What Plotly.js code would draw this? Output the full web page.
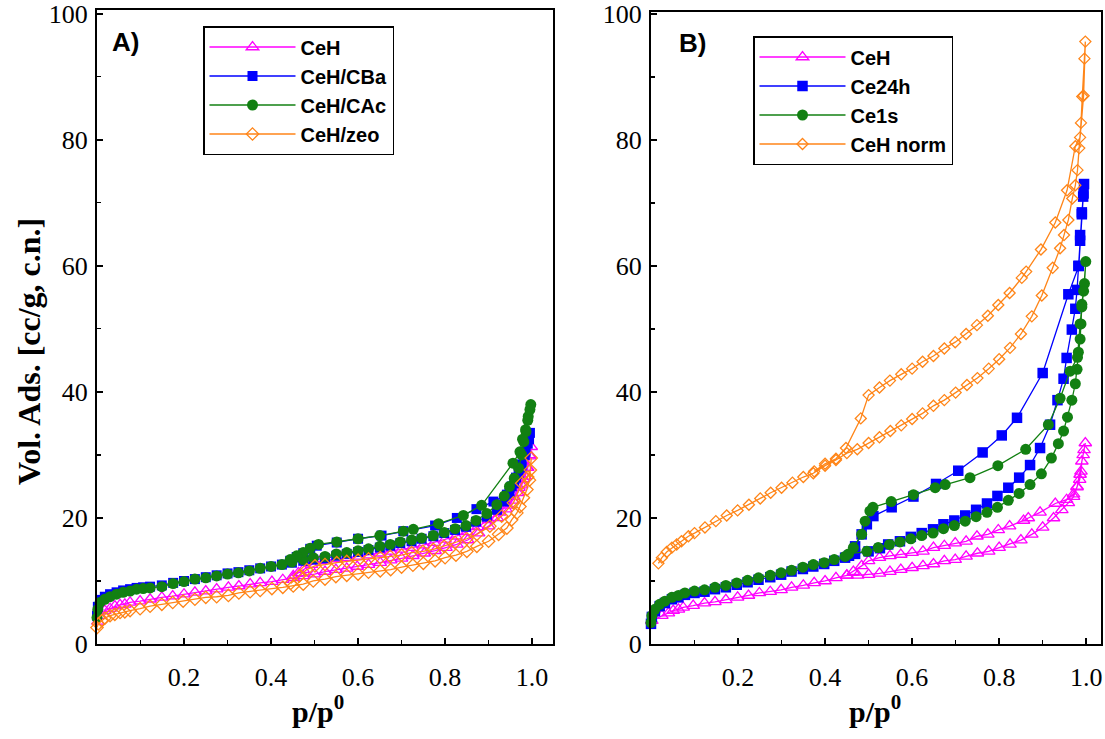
<!DOCTYPE html>
<html>
<head>
<meta charset="utf-8">
<script src="https://cdn.plot.ly/plotly-3.0.1.min.js"></script>
<style>html,body{margin:0;padding:0;background:#fff;}#chart{width:1105px;height:739px;}</style>
</head>
<body>
<div id="chart"></div>
<script>
// ---------- Panel A data (p/p0, Vol. Ads.) ----------
const aCeH_ads_p = [0.002,0.007,0.018,0.030,0.041,0.053,0.064,0.076,0.099,0.122,0.149,0.174,0.200,0.225,0.250,0.275,0.302,0.326,0.352,0.375,0.402,0.427,0.451,0.474,0.500,0.524,0.549,0.574,0.598,0.624,0.651,0.675,0.700,0.726,0.752,0.777,0.802,0.827,0.852,0.877,0.900,0.920,0.940,0.955,0.967,0.976,0.984,0.990,0.995,0.998];
const aCeH_ads_v = [3.6,4.5,5.3,5.6,6.0,6.2,6.3,6.6,6.8,7.1,7.4,7.6,7.9,8.2,8.4,8.7,9.0,9.2,9.5,9.7,9.9,10.2,10.5,10.8,11.1,11.5,11.8,12.0,12.3,12.6,12.9,13.3,13.6,14.0,14.4,14.8,15.3,15.8,16.5,17.6,18.7,20.0,21.4,22.8,24.0,25.2,26.6,28.0,29.8,31.3];
const aCeH_des_p = [0.995,0.988,0.980,0.970,0.958,0.943,0.925,0.900,0.875,0.850,0.825,0.800,0.775,0.750,0.725,0.700,0.675,0.650,0.625,0.600,0.575,0.550,0.525,0.513,0.493,0.474,0.463,0.451];
const aCeH_des_v = [30.0,28.0,26.2,24.8,23.4,22.0,20.9,19.7,18.6,17.8,17.1,16.6,16.1,15.7,15.3,15.0,14.7,14.4,14.1,13.9,13.7,13.5,13.3,13.2,12.6,11.8,11.3,10.8];

const aCBa_ads_p = [0.000,0.002,0.007,0.018,0.030,0.045,0.060,0.076,0.091,0.106,0.122,0.149,0.175,0.200,0.225,0.250,0.275,0.300,0.325,0.350,0.375,0.400,0.425,0.448,0.474,0.497,0.524,0.550,0.574,0.600,0.624,0.650,0.674,0.697,0.723,0.746,0.773,0.798,0.823,0.848,0.871,0.896,0.919,0.936,0.948,0.959,0.969,0.976,0.983,0.990,0.995];
const aCBa_ads_v = [4.5,5.9,7.0,7.5,7.9,8.2,8.5,8.7,8.9,9.0,9.1,9.3,9.7,10.0,10.3,10.6,10.9,11.2,11.4,11.7,12.0,12.3,12.6,12.9,13.2,13.4,13.6,14.0,14.3,14.6,14.9,15.3,15.6,16.0,16.3,16.7,17.1,17.6,18.1,18.6,19.4,20.2,21.3,22.6,24.0,25.5,27.0,28.5,30.0,31.8,33.5];
const aCBa_des_p = [0.993,0.985,0.975,0.963,0.953,0.942,0.911,0.872,0.827,0.777,0.704,0.654,0.600,0.551,0.505,0.490,0.474,0.459,0.444];
const aCBa_des_v = [32.5,30.5,28.0,26.4,25.0,23.7,22.6,21.4,20.0,18.8,17.9,17.2,16.7,16.1,15.6,15.1,14.4,13.8,13.2];

const aCAc_ads_p = [0.000,0.002,0.007,0.018,0.030,0.045,0.060,0.076,0.091,0.106,0.122,0.149,0.175,0.200,0.225,0.250,0.275,0.300,0.325,0.350,0.375,0.400,0.425,0.448,0.474,0.497,0.524,0.550,0.574,0.600,0.624,0.650,0.674,0.697,0.723,0.746,0.773,0.798,0.823,0.848,0.871,0.896,0.919,0.936,0.948,0.959,0.969,0.976,0.981,0.986,0.991,0.997];
const aCAc_ads_v = [4.2,5.5,6.6,7.1,7.5,7.9,8.2,8.4,8.7,8.8,8.9,9.1,9.6,9.9,10.3,10.5,10.8,11.1,11.3,11.6,12.0,12.3,12.6,13.0,13.4,13.7,13.9,14.3,14.5,14.8,15.1,15.5,15.8,16.2,16.5,16.8,17.2,17.7,18.3,18.8,19.6,20.7,22.1,23.5,25.0,26.3,27.9,30.0,32.1,33.7,36.1,38.0];
const aCAc_des_p = [0.995,0.990,0.985,0.978,0.972,0.956,0.884,0.842,0.785,0.727,0.704,0.650,0.600,0.551,0.509,0.490,0.474,0.459,0.444];
const aCAc_des_v = [37.2,35.5,34.0,32.5,30.5,28.7,22.0,20.4,19.1,18.2,17.9,17.2,16.7,16.2,15.8,15.2,14.5,14.0,13.4];

const aZeo_ads_p = [0.000,0.003,0.011,0.018,0.030,0.041,0.053,0.064,0.076,0.099,0.122,0.149,0.174,0.198,0.225,0.250,0.275,0.302,0.326,0.352,0.375,0.402,0.427,0.451,0.474,0.497,0.524,0.549,0.574,0.600,0.624,0.651,0.675,0.700,0.726,0.750,0.777,0.800,0.825,0.850,0.873,0.900,0.923,0.942,0.953,0.965,0.972,0.980,0.988,0.994,0.998];
const aZeo_ads_v = [2.6,3.2,3.7,4.1,4.5,4.7,5.0,5.1,5.3,5.6,6.0,6.3,6.6,6.8,7.1,7.4,7.5,7.7,8.1,8.3,8.5,8.8,9.0,9.2,9.5,10.0,10.3,10.7,10.9,11.1,11.4,11.6,11.8,12.2,12.5,12.8,13.2,13.7,14.1,14.7,15.5,16.3,17.4,18.4,19.7,20.8,21.8,23.2,24.5,26.0,29.5];
const aZeo_des_p = [0.996,0.990,0.976,0.957,0.930,0.903,0.873,0.850,0.823,0.798,0.773,0.749,0.723,0.700,0.674,0.651,0.624,0.600,0.574,0.551,0.524,0.501,0.482,0.465,0.445];
const aZeo_des_v = [27.6,26.5,25.5,22.4,20.3,18.7,17.4,16.7,16.1,15.5,15.0,14.7,14.5,14.1,13.9,13.7,13.5,13.3,13.1,12.9,12.6,12.4,11.8,10.8,9.6];

// ---------- Panel B data ----------
const bCeH_ads_p = [0.002,0.025,0.040,0.051,0.063,0.074,0.097,0.123,0.147,0.172,0.199,0.224,0.249,0.274,0.299,0.323,0.350,0.375,0.400,0.425,0.450,0.475,0.500,0.525,0.549,0.574,0.600,0.625,0.649,0.674,0.699,0.724,0.750,0.776,0.800,0.825,0.850,0.875,0.900,0.925,0.944,0.959,0.971,0.979,0.985,0.988,0.990,0.995,0.998];
const bCeH_ads_v = [3.7,4.5,4.9,5.3,5.5,5.8,6.1,6.5,6.7,7.0,7.4,7.7,8.1,8.3,8.6,9.0,9.3,9.7,10.0,10.5,10.9,10.9,11.0,11.2,11.5,11.8,12.1,12.4,12.7,13.2,13.4,13.9,14.4,14.7,15.3,15.8,16.5,17.4,18.5,20.0,21.3,22.4,23.4,25.0,26.1,27.4,29.0,30.8,31.9];
const bCeH_des_p = [0.993,0.986,0.979,0.971,0.955,0.929,0.894,0.867,0.856,0.824,0.798,0.774,0.749,0.724,0.699,0.674,0.649,0.625,0.600,0.574,0.549,0.525,0.500,0.484,0.465,0.450];
const bCeH_des_v = [30.0,26.9,24.9,23.8,22.9,22.3,20.9,20.0,19.6,18.7,18.1,17.4,17.1,16.3,16.0,15.6,15.3,14.7,14.5,14.2,14.0,13.7,13.2,12.4,11.5,10.9];

const b24h_ads_p = [0.000,0.002,0.009,0.020,0.032,0.048,0.063,0.078,0.100,0.123,0.147,0.172,0.197,0.222,0.247,0.274,0.299,0.323,0.349,0.373,0.398,0.421,0.446,0.469,0.500,0.526,0.545,0.572,0.597,0.622,0.648,0.672,0.697,0.722,0.747,0.772,0.796,0.821,0.846,0.871,0.894,0.917,0.934,0.948,0.955,0.967,0.975,0.979,0.982,0.986,0.990,0.993,0.995];
const b24h_ads_v = [3.2,4.3,5.2,6.0,6.5,7.1,7.4,7.8,8.1,8.3,8.7,9.0,9.4,9.8,10.2,10.6,11.0,11.5,11.9,12.3,12.7,13.2,13.7,14.3,14.7,15.2,15.8,16.3,17.0,17.6,18.2,19.0,19.6,20.4,21.3,22.3,23.5,24.8,26.4,28.4,31.1,34.8,38.7,42.1,45.4,49.9,53.2,56.2,60.0,64.9,68.2,71.0,73.0];
const b24h_des_p = [0.994,0.990,0.986,0.983,0.959,0.900,0.841,0.806,0.762,0.706,0.655,0.603,0.553,0.511,0.496,0.484,0.469,0.455];
const b24h_des_v = [71.5,68.5,64.0,60.0,55.5,43.0,35.9,33.1,30.4,27.5,25.4,23.4,21.7,20.3,19.0,17.4,15.5,14.0];

const b1s_ads_p = [0.000,0.002,0.009,0.020,0.032,0.048,0.063,0.078,0.100,0.123,0.147,0.172,0.197,0.222,0.247,0.274,0.299,0.323,0.349,0.373,0.398,0.421,0.446,0.454,0.496,0.522,0.548,0.572,0.597,0.622,0.648,0.672,0.697,0.722,0.747,0.772,0.796,0.821,0.846,0.871,0.897,0.920,0.936,0.948,0.957,0.967,0.975,0.979,0.982,0.986,0.988,0.990,0.996,0.999];
const b1s_ads_v = [3.4,4.5,5.5,6.3,6.8,7.4,7.7,8.1,8.4,8.6,9.0,9.3,9.7,10.1,10.5,10.9,11.3,11.7,12.2,12.6,12.9,13.4,13.9,14.3,14.7,15.3,15.8,16.2,16.7,17.2,17.6,18.3,18.8,19.5,20.2,20.9,21.7,22.8,23.9,25.3,27.0,29.5,31.8,33.8,36.0,38.7,41.3,43.6,46.3,48.4,50.8,53.9,57.2,60.7];
const b1s_des_p = [0.994,0.990,0.986,0.980,0.963,0.940,0.913,0.861,0.797,0.733,0.676,0.653,0.603,0.552,0.510,0.503,0.492,0.484,0.465];
const b1s_des_v = [56.0,53.5,50.8,45.5,43.3,39.0,34.8,30.9,28.3,26.4,25.3,24.8,23.7,22.6,21.7,21.1,19.5,17.4,15.3];

const bNorm_ads_p = [0.017,0.025,0.036,0.048,0.059,0.070,0.086,0.100,0.124,0.149,0.174,0.199,0.225,0.251,0.275,0.300,0.325,0.350,0.373,0.400,0.425,0.450,0.474,0.500,0.525,0.550,0.575,0.600,0.624,0.649,0.674,0.700,0.726,0.750,0.776,0.800,0.825,0.850,0.875,0.898,0.923,0.940,0.949,0.959,0.968,0.975,0.980,0.984,0.988,0.991,0.996,0.998];
const bNorm_ads_v = [12.8,13.7,14.6,15.3,15.8,16.3,17.1,17.6,18.5,19.5,20.4,21.2,22.1,23.1,24.0,24.8,25.6,26.5,27.1,28.3,29.2,30.3,30.9,31.9,32.8,33.8,34.7,35.7,36.6,37.8,38.7,39.9,41.1,42.2,43.7,45.2,47.0,49.2,52.0,55.3,59.7,62.8,64.9,67.3,70.7,72.8,75.2,78.7,82.7,86.9,92.9,95.6];
const bNorm_des_p = [0.994,0.986,0.975,0.956,0.929,0.896,0.862,0.852,0.824,0.798,0.774,0.749,0.724,0.699,0.674,0.649,0.624,0.600,0.575,0.549,0.525,0.500,0.482,0.448,0.425,0.400,0.375];
const bNorm_des_v = [87.0,80.4,79.0,72.0,66.9,62.6,59.1,58.1,55.7,53.8,52.1,50.6,49.2,47.9,46.9,45.7,44.8,43.7,42.8,41.8,40.7,39.5,35.8,31.1,29.4,28.6,27.4];

const legendA = ['CeH','CeH/CBa','CeH/CAc','CeH/zeo'];
const legendB = ['CeH','Ce24h','Ce1s','CeH norm'];
const xTickVals = [0.2,0.4,0.6,0.8,1.0];
const xTickText = ['0.2','0.4','0.6','0.8','1.0'];
const yTickVals = [0,20,40,60,80,100];
const yTickText = ['0','20','40','60','80','100'];

// ---------- styles ----------
const MAG='#ff00ff', BLU='#0000ff', GRN='#128012', ORG='#ff8518';
const W=1105, H=739;

function trace(name, pA, vA, pD, vD, ax, leg, color, symbol, size, open){
  return {
    type:'scatter', mode:'lines+markers', name:name,
    x: pA.concat(pD), y: vA.concat(vD),
    xaxis: ax[0], yaxis: ax[1], legend: leg,
    line:{color:color, width:1.3},
    marker:{symbol:symbol, size:size, color:color,
            line:{color:color, width: open?1.3:0}},
    cliponaxis:false, hoverinfo:'skip'
  };
}

const data = [
  trace(legendA[0], aCeH_ads_p, aCeH_ads_v, aCeH_des_p, aCeH_des_v, ['x','y'], 'legend', MAG, 'triangle-up-open', 11, true),
  trace(legendA[1], aCBa_ads_p, aCBa_ads_v, aCBa_des_p, aCBa_des_v, ['x','y'], 'legend', BLU, 'square', 10, false),
  trace(legendA[2], aCAc_ads_p, aCAc_ads_v, aCAc_des_p, aCAc_des_v, ['x','y'], 'legend', GRN, 'circle', 11, false),
  trace(legendA[3], aZeo_ads_p, aZeo_ads_v, aZeo_des_p, aZeo_des_v, ['x','y'], 'legend', ORG, 'diamond-open', 9.5, true),
  trace(legendB[0], bCeH_ads_p, bCeH_ads_v, bCeH_des_p, bCeH_des_v, ['x2','y2'], 'legend2', MAG, 'triangle-up-open', 11, true),
  trace(legendB[1], b24h_ads_p, b24h_ads_v, b24h_des_p, b24h_des_v, ['x2','y2'], 'legend2', BLU, 'square', 10.5, false),
  trace(legendB[2], b1s_ads_p, b1s_ads_v, b1s_des_p, b1s_des_v, ['x2','y2'], 'legend2', GRN, 'circle', 11, false),
  trace(legendB[3], bNorm_ads_p, bNorm_ads_v, bNorm_des_p, bNorm_des_v, ['x2','y2'], 'legend2', ORG, 'diamond-open', 8.5, true)
];

const serif = 'Liberation Serif, Times New Roman, serif';
const sans = 'Liberation Sans, Arial, sans-serif';

function xax(domain, range, anchor){
  return {domain:domain, range:range, anchor:anchor, showgrid:false, zeroline:false,
    showline:true, mirror:true, linecolor:'#000', linewidth:2,
    ticks:'inside', ticklen:6, tickwidth:1.5, tickcolor:'#000',
    tickmode:'array', tickvals:xTickVals, ticktext:xTickText,
    minor:{ticks:'inside', ticklen:4, tickwidth:1.2, tickcolor:'#000', tickmode:'linear', tick0:0, dtick:0.1},
    tickfont:{family:serif, size:26, color:'#000'}, ticklabelstandoff:9,
    ticklabeloverflow:'allow', fixedrange:true};
}
function yax(domain, range, anchor){
  return {domain:domain, range:range, anchor:anchor, showgrid:false, zeroline:false,
    showline:true, mirror:true, linecolor:'#000', linewidth:2,
    ticks:'inside', ticklen:6, tickwidth:1.5, tickcolor:'#000',
    tickmode:'array', tickvals:yTickVals, ticktext:yTickText,
    minor:{ticks:'inside', ticklen:4, tickwidth:1.2, tickcolor:'#000', tickmode:'linear', tick0:0, dtick:10},
    tickfont:{family:serif, size:26, color:'#000'}, ticklabelstandoff:2,
    ticklabeloverflow:'allow', fixedrange:true};
}

function legendCfg(xpx, ypx){
  return {x:xpx/W, y:1-ypx/H, xanchor:'left', yanchor:'top',
    bgcolor:'#fff', bordercolor:'#000', borderwidth:1.5,
    font:{family:sans, size:20, color:'#000', weight:'bold'},
    itemwidth:86, tracegroupgap:0, traceorder:'normal'};
}

const layout = {
  width:W, height:H, margin:{l:0,r:0,t:0,b:0},
  paper_bgcolor:'#fff', plot_bgcolor:'#fff', showlegend:true,
  xaxis: xax([97/W, 553/W], [0,1.048], 'y'),
  yaxis: yax([1-644/H, 1-10/H], [0,100.6], 'x'),
  xaxis2: xax([651/W, 1101/W], [0,1.034], 'y2'),
  yaxis2: yax([1-644/H, 1-12/H], [0,100.3], 'x2'),
  legend: legendCfg(203, 26),
  legend2: legendCfg(753, 36),
  annotations: [
    {text:'<b>Vol. Ads. [cc/g, c.n.]</b>', xref:'paper', yref:'paper', x:29/W, y:1-352/H,
     textangle:-90, showarrow:false, font:{family:serif, size:32, color:'#000'}, xanchor:'center', yanchor:'middle'},
    {text:'<b>p/p<sup>0</sup></b>', xref:'paper', yref:'paper', x:318/W, y:1-709/H,
     showarrow:false, font:{family:serif, size:30, color:'#000'}, xanchor:'center', yanchor:'middle'},
    {text:'<b>p/p<sup>0</sup></b>', xref:'paper', yref:'paper', x:875/W, y:1-709/H,
     showarrow:false, font:{family:serif, size:30, color:'#000'}, xanchor:'center', yanchor:'middle'},
    {text:'<b>A)</b>', xref:'paper', yref:'paper', x:110/W, y:1-42/H,
     showarrow:false, font:{family:sans, size:26, color:'#000'}, xanchor:'left', yanchor:'middle'},
    {text:'<b>B)</b>', xref:'paper', yref:'paper', x:677/W, y:1-43/H,
     showarrow:false, font:{family:sans, size:26, color:'#000'}, xanchor:'left', yanchor:'middle'}
  ]
};

Plotly.newPlot('chart', data, layout, {staticPlot:true, displayModeBar:false});
</script>
</body>
</html>
